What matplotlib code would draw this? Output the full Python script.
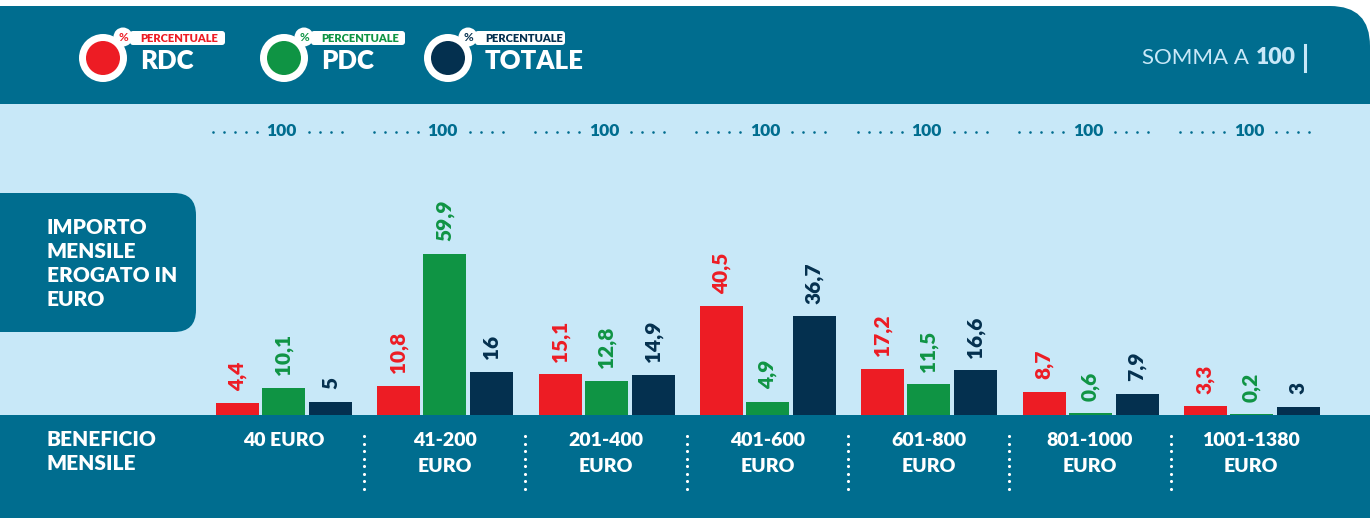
import matplotlib
matplotlib.use('Agg')
import matplotlib.pyplot as plt
import matplotlib.transforms as mtransforms
from matplotlib.patches import FancyBboxPatch, Rectangle, Circle
import numpy as np

plt.rcParams['font.family'] = ['Lato', 'DejaVu Sans']

# data
categories = [['40 EURO'], ['41-200', 'EURO'], ['201-400', 'EURO'], ['401-600', 'EURO'],
              ['601-800', 'EURO'], ['801-1000', 'EURO'], ['1001-1380', 'EURO']]
rdc = [4.4, 10.8, 15.1, 40.5, 17.2, 8.7, 3.3]
pdc = [10.1, 59.9, 12.8, 4.9, 11.5, 0.6, 0.2]
totale = [5, 16, 14.9, 36.7, 16.6, 7.9, 3]
series_names = ['RDC', 'PDC', 'TOTALE']
totals = [100] * len(categories)

# colours
TEAL = '#006d8f'
LIGHT = '#c8e8f8'
RED = '#ed1c24'
GREEN = '#0f9444'
NAVY = '#04304f'
colors = [RED, GREEN, NAVY]

W, H = 1370, 518
fig = plt.figure(figsize=(W / 100, H / 100), dpi=100)
fig.patch.set_facecolor('white')

# background axes in pixel coords
bg = fig.add_axes([0, 0, 1, 1])
bg.set_xlim(0, W)
bg.set_ylim(H, 0)
bg.axis('off')

bg.add_patch(FancyBboxPatch((-80, 6), W + 80, 200, boxstyle='round,pad=0,rounding_size=40',
                            fc=TEAL, ec='none', zorder=0))
bg.add_patch(Rectangle((0, 104), W, 311, fc=LIGHT, ec='none', zorder=1))
bg.add_patch(Rectangle((0, 415), W, H - 415, fc=TEAL, ec='none', zorder=1))

# left label box
bg.add_patch(FancyBboxPatch((-40, 193), 236, 139, boxstyle='round,pad=0,rounding_size=22',
                            fc=TEAL, ec='none', zorder=2))
for k, line in enumerate(['IMPORTO', 'MENSILE', 'EROGATO IN', 'EURO']):
    bg.text(47, 228 + 24 * k, line, color='white', fontsize=15, fontweight='heavy',
            ha='left', va='center', zorder=3)
for k, line in enumerate(['BENEFICIO', 'MENSILE']):
    bg.text(47, 440 + 24 * k, line, color='white', fontsize=15, fontweight='heavy',
            ha='left', va='center', zorder=3)

# legend
for k, (name, col) in enumerate(zip(series_names, colors)):
    dx = [0, 181, 345][k]
    cx, cy = 103 + dx, 58
    bg.add_patch(Circle((cx, cy), 24, fc='white', ec='none', zorder=3))
    bg.add_patch(Circle((cx, cy), 17, fc=col, ec='none', zorder=4))
    bg.add_patch(Circle((cx + 20, 37), 9.5, fc='white', ec='none', zorder=3))
    tag_w = [95, 94, 90][k]
    bg.add_patch(FancyBboxPatch((130 + dx, 31), tag_w, 14, boxstyle='round,pad=0,rounding_size=3',
                                fc='white', ec='none', zorder=3))
    bg.text(cx + 20, 37.5, '%', color=col, fontsize=8.5, fontweight='bold',
            ha='center', va='center', zorder=5)
    bg.text(140 + dx, 38.5, 'PERCENTUALE', color=col, fontsize=8, fontweight='heavy',
            ha='left', va='center', zorder=5)
    bg.text(140 + dx, 61, name, color='white', fontsize=18.5, fontweight='heavy',
            ha='left', va='center', zorder=5)

bg.text(1249, 58, 'SOMMA A', color=LIGHT, fontsize=16, ha='right', va='center', zorder=5)
bg.text(1256, 58, '100', color=LIGHT, fontsize=16.5, fontweight='heavy', ha='left',
        va='center', zorder=5)
bg.plot([1305, 1305], [45, 71], color=LIGHT, lw=2.2, zorder=5)

# bar axes
ax = fig.add_axes([0, (H - 415) / H, 1, 311 / H])
ax.patch.set_alpha(0)
ax.set_zorder(2)
spacing = 161.3
ax.set_xlim(-283.5 / spacing, (W - 283.5) / spacing)
ax.set_ylim(0, 311 / 2.69)
ax.axis('off')

x = np.arange(len(categories))
offsets = [-46 / spacing, 0, 47 / spacing]
width = 43 / spacing
for vals, col, off in zip([rdc, pdc, totale], colors, offsets):
    ax.bar(x + off, vals, width, color=col, zorder=3)
    for xi, v in zip(x, vals):
        ax.annotate(f'{v:g}'.replace('.', ','), (xi + off, v), xytext=(0, 9),
                    textcoords='offset points', rotation=90, ha='center', va='bottom',
                    color=col, fontsize=15, fontweight='heavy', zorder=4)

# x from bar axes data, y in pixels
blend = mtransforms.blended_transform_factory(ax.transData, bg.transData)

for xi, t in zip(x, totals):
    bg.text(xi - 2 / spacing, 131, str(t), transform=blend, color=TEAL, fontsize=12.5,
            fontweight='heavy', ha='center', va='center', zorder=5)
    left = xi + np.array([-71, -60, -49, -38, -27]) / spacing
    right = xi + np.array([25, 36, 47, 58]) / spacing
    dots = np.concatenate([left, right])
    bg.scatter(dots, np.full(len(dots), 131.5), s=3.5, color=TEAL, transform=blend,
               zorder=5, linewidths=0)

for xi, lines in zip(x, categories):
    for k, line in enumerate(lines):
        bg.text(xi, 440 + 26 * k, line, transform=blend, color='white', fontsize=14,
                fontweight='heavy', ha='center', va='center', zorder=5)

for xi in x[:-1]:
    sx = xi + 0.5
    ys = np.linspace(436, 489, 8)
    bg.scatter(np.full(len(ys), sx), ys, s=5, color='white', transform=blend,
               zorder=5, linewidths=0)

fig.savefig('out.png', dpi=100)
